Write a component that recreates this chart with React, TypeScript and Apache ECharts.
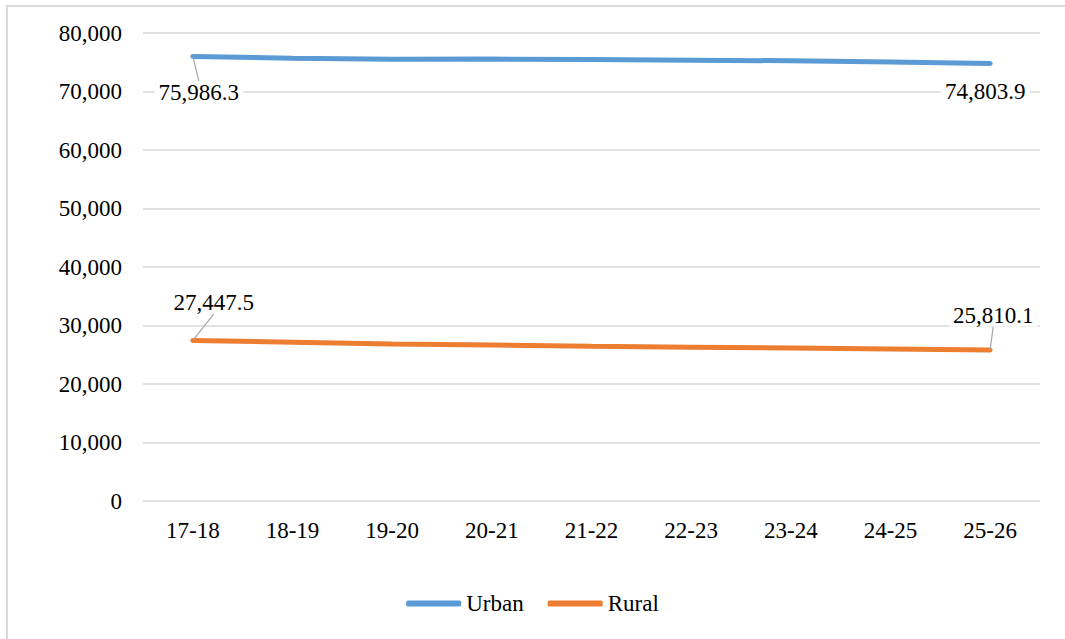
import React, { useEffect, useRef } from "react";
import * as echarts from "echarts";

const years = ["17-18", "18-19", "19-20", "20-21", "21-22", "22-23", "23-24", "24-25", "25-26"];
const urban = [75986.3, 75700, 75500, 75550, 75450, 75350, 75250, 75050, 74803.9];
const rural = [27447.5, 27150, 26850, 26650, 26450, 26300, 26150, 25980, 25810.1];

const FONT = "Liberation Serif, Times New Roman, DejaVu Serif, serif";
const FS = 23;

const fmt = (v: number) =>
  v.toLocaleString("en-US", { minimumFractionDigits: 1, maximumFractionDigits: 1 });

// Only the first and last point of each series carry a value label;
// the last urban label sits close to its point and needs no leader line
const withEndLabels = (values: number[], lastLeader: boolean) =>
  values.map((v, i) => {
    const isEnd = i === 0 || i === values.length - 1;
    const item: any = { value: v, label: { show: isEnd } };
    if (i === values.length - 1 && !lastLeader) item.labelLine = { show: false };
    return item;
  });

// Label offsets from their points (series index -> [first, last])
const labelShift: Record<number, [number, number][]> = {
  0: [
    [6, 36],
    [-5, 28],
  ],
  1: [
    [21, -38],
    [3, -35],
  ],
};

export default function App() {
  const ref = useRef<HTMLDivElement>(null);

  useEffect(() => {
    if (!ref.current) return;
    const chart = echarts.init(ref.current, undefined, { renderer: "svg" });
    const last = years.length - 1;

    const seriesBase = (name: string, color: string, values: number[], lastLeader: boolean) => ({
      name,
      type: "line",
      data: withEndLabels(values, lastLeader),
      symbol: "circle",
      symbolSize: 1,
      showSymbol: true,
      itemStyle: { color },
      lineStyle: { color, width: 5, cap: "round" },
      label: {
        show: false,
        position: "inside",
        formatter: (p: any) => fmt(p.value),
        fontFamily: FONT,
        fontSize: FS,
        color: "#000",
        backgroundColor: "#fff",
        padding: [0, 4],
      },
      labelLine: {
        show: true,
        lineStyle: { color: "#A6A6A6", width: 1.2 },
      },
      emphasis: { disabled: true },
    });

    chart.setOption({
      animation: false,
      backgroundColor: "#fff",
      textStyle: { fontFamily: FONT },
      graphic: [
        {
          type: "rect",
          shape: { x: 7, y: 6, width: 1200, height: 800 },
          style: { fill: "none", stroke: "#D9D9D9", lineWidth: 2 },
          silent: true,
        },
      ],
      grid: { left: 143, right: 25, top: 33, bottom: 138 },
      xAxis: {
        type: "category",
        data: years,
        boundaryGap: true,
        axisLine: { show: false },
        axisTick: { show: false },
        axisLabel: { fontFamily: FONT, fontSize: FS, color: "#000", margin: 18 },
      },
      yAxis: {
        type: "value",
        min: 0,
        max: 80000,
        interval: 10000,
        axisLine: { show: false },
        axisTick: { show: false },
        splitLine: { lineStyle: { color: "#D9D9D9", width: 1.5 } },
        axisLabel: {
          fontFamily: FONT,
          fontSize: FS,
          color: "#000",
          margin: 21,
          formatter: (v: number) => v.toLocaleString("en-US"),
        },
      },
      legend: {
        bottom: 19,
        left: "center",
        itemWidth: 55,
        itemHeight: 6,
        itemGap: 24,
        icon: "roundRect",
        textStyle: { fontFamily: FONT, fontSize: FS, color: "#000" },
        data: ["Urban", "Rural"],
      },
      labelLayout: (params: any) => {
        const s = labelShift[params.seriesIndex];
        if (!s) return {};
        const entry = params.dataIndex === 0 ? s[0] : params.dataIndex === last ? s[1] : null;
        if (!entry) return {};
        return { dx: entry[0], dy: entry[1] };
      },
      series: [
        seriesBase("Urban", "#5B9BD5", urban, false),
        seriesBase("Rural", "#ED7D31", rural, true),
      ],
    });

    return () => chart.dispose();
  }, []);

  return (
    <div
      ref={ref}
      style={{ position: "fixed", left: 0, top: 0, width: 1065, height: 639 }}
    />
  );
}
